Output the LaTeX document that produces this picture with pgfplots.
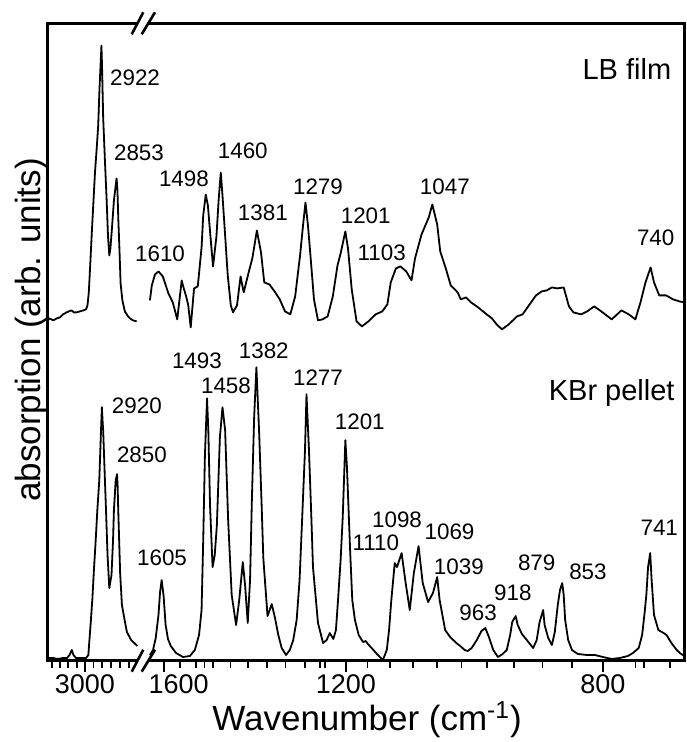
\documentclass[border=0pt]{standalone}
\usepackage{fontspec}
\setmainfont{Liberation Sans}
\usepackage{pgfplots}
\pgfplotsset{compat=1.18}
\tikzset{lab/.style={font=\fontsize{11.2}{13}\selectfont, inner sep=0pt, anchor=center},
  big/.style={font=\fontsize{14.5}{17}\selectfont, inner sep=0pt, anchor=base}}
\begin{document}
\begin{tikzpicture}
\useasboundingbox (0,0) rectangle (343pt,371pt);
% ---------- left segment (C-H stretching region) ----------
\begin{axis}[scale only axis, height=318.7pt, ymin=-0.7, ymax=637.4,
  xmode=log, x dir=reverse, ytick=\empty,
  axis line style={draw=none},
  xtick pos=bottom, tick align=outside,
  major tick length=5.5pt,
  major tick style={black, line width=1pt},
  xticklabel style={font=\fontsize{13.5}{16}\selectfont, inner sep=0pt, anchor=north, yshift=-1.5pt},
  clip mode=individual, anchor=south west,
  at={(23.65pt,40.65pt)}, width=47.85pt, xmin=2737.7, xmax=3184,
  xtick={3000}, xticklabels={3000}]
% LB film
\addplot[black, line width=0.9pt, line join=round, mark=none] table {
3184 339
3174 342
3154 340
3136 342
3121 343
3106 346
3088 348
3077 349
3064 350
3053 348
3040 348
3024 349
3008 350
2995 351
2988 355
2982 368
2976 392
2968 427
2961 455
2953 488
2944 515
2938 535
2932 572
2923 615
2920 592
2915 543
2907 500
2899 460
2893 425
2887 405
2882 412
2875 432
2866 460
2854 482
2850 470
2846.5 443
2841 410
2836 377
2828 360
2817 349
2803 344
2794 342
2781 340
2765 339
};
% KBr pellet
\addplot[black, line width=0.9pt, line join=round, mark=none] table {
3184 2
3155 2
3131 1
3106 2
3086 2
3074 5
3063 10
3055 5
3043 2
3024 2
2995 2
2984 5
2979 20
2972 40
2965 62
2958 90
2951 115
2942 150
2933 180
2925 230
2921 253
2918 240
2915 230
2907 180
2902 150
2895 105
2887 72
2877 85
2870 120
2866 150
2858 180
2852 186
2849.5 175
2846.5 150
2838 87
2830 55
2818 40
2808 28
2789 20
2762 14
};
\node[lab] at (axis cs:2772,583) {2922};
\node[lab] at (axis cs:2755,508) {2853};
\node[lab] at (axis cs:2764,254) {2920};
\node[lab] at (axis cs:2742,205) {2850};
\end{axis}
% ---------- right segment (fingerprint region) ----------
\begin{axis}[scale only axis, height=318.7pt, ymin=-0.7, ymax=637.4,
  xmode=log, x dir=reverse, ytick=\empty,
  axis line style={draw=none},
  xtick pos=bottom, tick align=outside,
  major tick length=5.5pt,
  major tick style={black, line width=1pt},
  xticklabel style={font=\fontsize{13.5}{16}\selectfont, inner sep=0pt, anchor=north, yshift=-1.5pt},
  clip mode=individual, anchor=south west,
  at={(71.5pt,40.65pt)}, width=270.75pt, xmin=703.4, xmax=1653,
  xtick={800,1200,1600}, xticklabels={800,1200,\hspace*{15pt}1600}]
% LB film
\addplot[black, line width=0.9pt, line join=round, mark=none] table {
1635 360
1630 375
1622 386
1613 389
1602 384
1588 367
1577 358
1566 341
1555 380
1550 372
1544 364
1539 355
1533 333
1525 372
1516 374
1507 413
1503 445
1497 466
1492 455
1487 429
1480 394
1472 424
1467 460
1462 488
1458 465
1452 425
1446 385
1439 355
1434 348
1425 355
1417 384
1410 368
1398 390
1391 402
1381 430
1372 408
1365 378
1354 376
1343 369
1332 361
1321 349
1310 346
1300 364
1290 405
1284 435
1279 458
1274 435
1269 405
1262 361
1254 340
1245 341
1235 344
1225 364
1216 395
1210 407
1201 429
1196 412
1189 371
1180 339
1170 334
1158 339
1145 346
1133 349
1124 356
1118 378
1109 392
1101 394
1091 389
1082 380
1076 402
1065 426
1053 443
1047 456
1039 436
1034 409
1025 392
1017 375
1006 368
1001 361
993 363
985 358
974 353
961 346
953 342
946 336
938 331
928 336
916 344
908 346
898 356
889 365
881 369
874 370
867 373
860 372
851 373
844 354
838 348
828 346
820 349
811 354
802 349
789 341
777 350
768 346
760 341
754 358
748 378
742 393
738 378
732 365
724 365
716 361
709 359
703.5 358
};
% KBr pellet
\addplot[black, line width=0.9pt, line join=round, mark=none] table {
1635 5
1627 10
1620 22
1613 45
1609 68
1605 80
1600 64
1595 35
1589 21
1582 14
1569 7
1552 3
1535 4
1523 10
1513 25
1507 50
1503 120
1499 205
1494 262
1491 230
1487 155
1481 93
1476 105
1471 135
1464 223
1458 253
1452 230
1445 140
1437 65
1427 35
1420 60
1412 98
1407 75
1401 37
1396 80
1392 160
1387 243
1382 293
1376 227
1371 160
1367 102
1358 44
1349 56
1342 42
1335 25
1328 12
1319 5
1311 10
1304 20
1297 40
1291 80
1287 127
1280 210
1277 266
1272 210
1267 140
1264 93
1254 37
1244 17
1237 20
1231 27
1224 21
1219 30
1215 60
1210 100
1206 143
1201 220
1198 193
1192 110
1188 60
1183 40
1176 25
1168 18
1163 19
1159 16
1149 10
1141 5
1132 0
1125 10
1121 30
1117 60
1111 97
1107 93
1099 107
1092 77
1085 50
1078 87
1070 114
1063 77
1054 58
1046 67
1039 83
1035 60
1026 30
1018 23
1008 17
1000 13
995 10
990 9
984 12
976 20
969 29
963 32
957 22
951 10
944 3
937 6
931 10
926 25
923 38
918 44
915 35
909 26
902 20
893 12
888 20
884 38
879 50
877 35
872 22
867 15
863 28
859 55
856 70
853 77
851 65
849 40
845 20
840 10
832 6
820 5
810 5
800 3
789 1
779 2
769 4
763 7
756 12
752 25
749 48
747 65
745 93
742.5 107
740.8 80
738 45
733 30
727 27
723.5 25
718 17
712 10
708.5 7
703.5 4
};
% labels LB film
\node[lab] at (axis cs:1609,407) {1610};
\node[lab] at (axis cs:1549.5,482) {1498};
\node[lab] at (axis cs:1412,510) {1460};
\node[lab] at (axis cs:1368,448) {1381};
\node[lab] at (axis cs:1254,474) {1279};
\node[lab] at (axis cs:1163,445) {1201};
\node[lab] at (axis cs:1134,408) {1103};
\node[lab] at (axis cs:1026.5,474) {1047};
\node[lab] at (axis cs:736,423) {740};
\node[big] at (axis cs:770.3,581) {LB film};
% labels KBr pellet
\node[lab] at (axis cs:1604,102) {1605};
\node[lab] at (axis cs:1518,300) {1493};
\node[lab] at (axis cs:1450,275) {1458};
\node[lab] at (axis cs:1366,310) {1382};
\node[lab] at (axis cs:1254,283) {1277};
\node[lab] at (axis cs:1174,238) {1201};
\node[lab] at (axis cs:1144.5,117) {1110};
\node[lab] at (axis cs:1107,140) {1098};
\node[lab] at (axis cs:1019,128) {1069};
\node[lab] at (axis cs:1004,93) {1039};
\node[lab] at (axis cs:974,47) {963};
\node[lab] at (axis cs:922,67) {918};
\node[lab] at (axis cs:888,97) {879};
\node[lab] at (axis cs:819,88) {853};
\node[lab] at (axis cs:732,132) {741};
\node[big] at (axis cs:789,260) {KBr pellet};
\end{axis}
% frame and axis breaks
\draw[line width=1.4pt] (23.65pt,40.65pt) rectangle (342.25pt,359.35pt);
% minor ticks (log scale, 316.9pt per e-fold)
\foreach \t [evaluate=\t as \xx using {23.65+316.9*ln(3184/\t)}] in {2800,2840,2880,2920,2960,3040,3080,3120,3160} {
  \draw[black, line width=0.9pt] (\xx pt,40.65pt) -- ++(0pt,-3.6pt);
}
\foreach \t [evaluate=\t as \xx using {71.5+316.9*ln(1653/\t)}] in {720,750,760,840,880,920,960,1000,1040,1080,1120,1160,1240,1250,1280,1320,1360,1400,1440,1480,1500,1520,1560} {
  \draw[black, line width=0.9pt] (\xx pt,40.65pt) -- ++(0pt,-3.6pt);
}
\foreach \yy in {40.65,359.35} {
  \fill[white] (68.9pt,\yy pt-1.3pt) rectangle (74pt,\yy pt+1.3pt);
  \draw[line width=1.3pt] (65.85pt,\yy pt-5.5pt) -- (71.65pt,\yy pt+5.5pt);
  \draw[line width=1.3pt] (70.85pt,\yy pt-5.5pt) -- (77.5pt,\yy pt+5.5pt);
}
% axis titles
\node[rotate=90, anchor=base, font=\fontsize{17.5}{21}\selectfont, inner sep=0pt] at (20pt,206pt) {absorption (arb. units)};
\node[anchor=base, font=\fontsize{17.5}{21}\selectfont, inner sep=0pt] at (183.5pt,5.5pt) {Wavenumber (cm\textsuperscript{-1})};
\end{tikzpicture}
\end{document}
